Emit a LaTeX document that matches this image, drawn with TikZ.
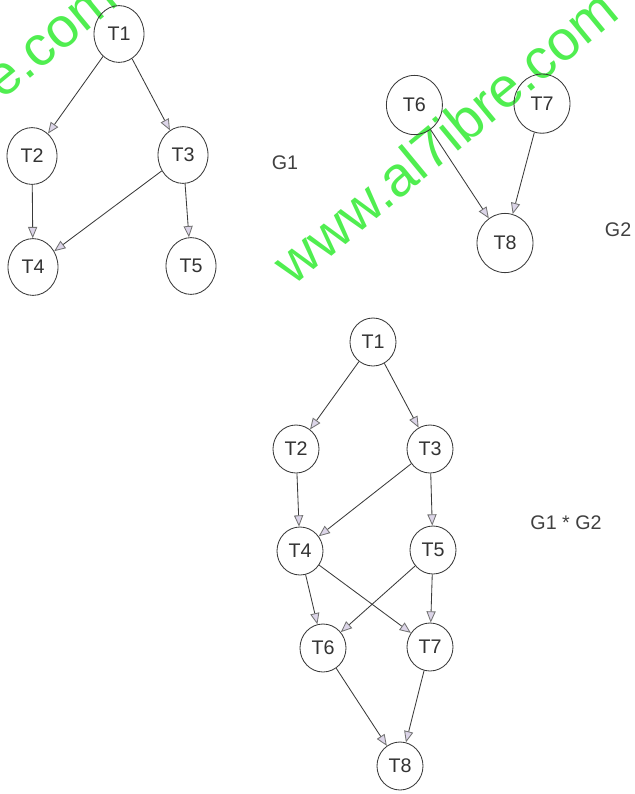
\documentclass[tikz,border=0pt]{standalone}
\usepackage{fontspec}
\setmainfont{Liberation Sans}
\usetikzlibrary{arrows.meta,shapes.geometric}
\definecolor{tratto}{HTML}{3A3A3A}
\definecolor{punta}{HTML}{DCD5E8}
\definecolor{filigrana}{RGB}{80,238,80}
\begin{document}
\begin{tikzpicture}[
        task/.style={ellipse, draw=tratto, line width=0.6pt, inner sep=0pt, text=black!80, font=\fontsize{14}{16}\selectfont},
        taskA/.style={task, minimum width=1.25cm, minimum height=1.42cm},
        taskB/.style={task, minimum width=1.4cm, minimum height=1.48cm},
        taskC/.style={task, minimum width=1.15cm, minimum height=1.2cm},
        arco/.style={draw=tratto, line width=0.6pt, -{Triangle[length=8pt, width=6.5pt, color=black!55, fill=punta]}},
        etichetta/.style={text=black!75, font=\fontsize{14}{16}\selectfont},
        filigrana/.style={text=filigrana, rotate=39.5, anchor=base west, font=\fontsize{40}{42}\selectfont}
    ]
        \useasboundingbox (0,0) rectangle (15.875,-19.85);

        % Filigrana
        \node[filigrana] (fil1) at (-5.275,-6.925) {www.al7ibre.com};
        \node[filigrana] (fil2) at (7.25,-7.25) {www.al7ibre.com};

        % Grafo G1
        \node[taskA] (g1t1) at (2.975,-0.85) {T1};
        \node[taskA] (g1t2) at (0.8,-3.9) {T2};
        \node[taskA] (g1t3) at (4.575,-3.875) {T3};
        \node[taskA] (g1t4) at (0.825,-6.675) {T4};
        \node[taskA] (g1t5) at (4.775,-6.65) {T5};
        \node[etichetta] (g1) at (7.125,-4.075) {G1};

        \draw[arco] (g1t1) -- (g1t2);
        \draw[arco] (g1t1) -- (g1t3);
        \draw[arco] (g1t2) -- (g1t4);
        \draw[arco] (g1t3) -- (g1t4);
        \draw[arco] (g1t3) -- (g1t5);

        % Grafo G2
        \node[taskB] (g2t6) at (10.36,-2.625) {T6};
        \node[taskB] (g2t7) at (13.55,-2.59) {T7};
        \node[taskB] (g2t8) at (12.625,-6.075) {T8};
        \node[etichetta, anchor=west] (g2) at (15.0,-5.75) {G2};

        \draw[arco] (g2t6) -- (g2t8);
        \draw[arco] (g2t7) -- (g2t8);

        % Prodotto G1 * G2
        \node[taskC] (pt1) at (9.325,-8.55) {T1};
        \node[taskC] (pt2) at (7.4,-11.225) {T2};
        \node[taskC] (pt3) at (10.75,-11.225) {T3};
        \node[taskC] (pt4) at (7.5,-13.775) {T4};
        \node[taskC] (pt5) at (10.825,-13.75) {T5};
        \node[taskC] (pt6) at (8.075,-16.2) {T6};
        \node[taskC] (pt7) at (10.75,-16.175) {T7};
        \node[taskC] (pt8) at (10.0,-19.15) {T8};
        \node[etichetta] (prod) at (14.15,-13.075) {G1 * G2};

        \draw[arco] (pt1) -- (pt2);
        \draw[arco] (pt1) -- (pt3);
        \draw[arco] (pt2) -- (pt4);
        \draw[arco] (pt3) -- (pt4);
        \draw[arco] (pt3) -- (pt5);
        \draw[arco] (pt4) -- (pt6);
        \draw[arco] (pt4) -- (pt7);
        \draw[arco] (pt5) -- (pt6);
        \draw[arco] (pt5) -- (pt7);
        \draw[arco] (pt6) -- (pt8);
        \draw[arco] (pt7) -- (pt8);
    \end{tikzpicture}
\end{document}
